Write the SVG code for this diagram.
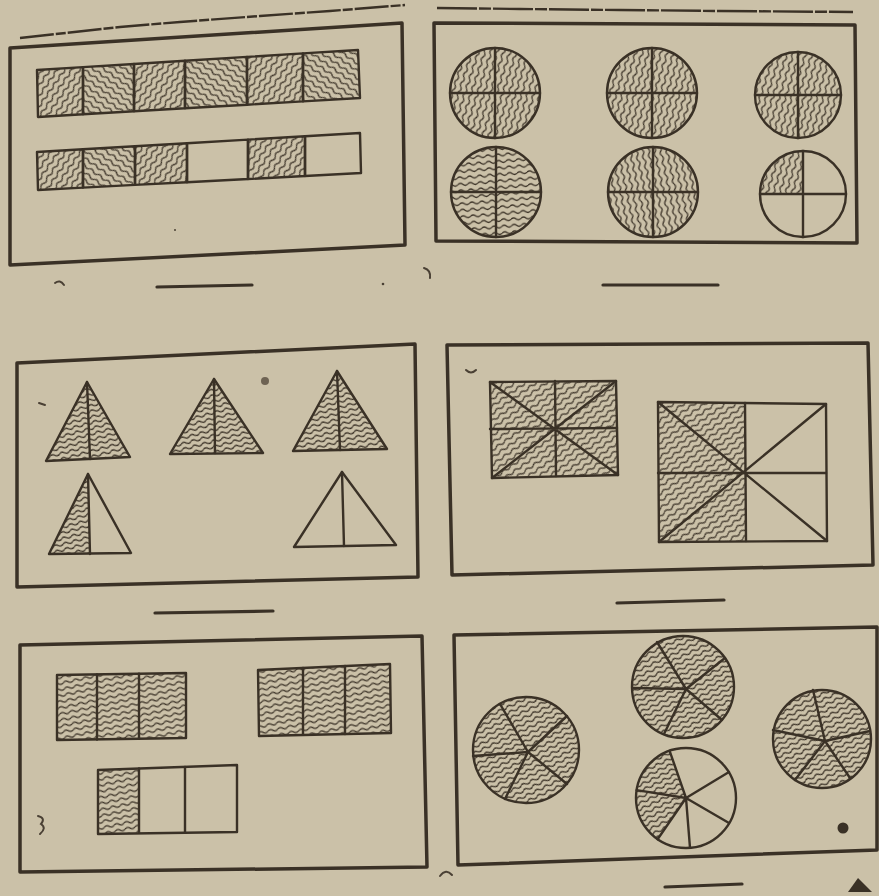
<svg xmlns="http://www.w3.org/2000/svg" width="879" height="896" viewBox="0 0 879 896">
<style>
.bx{fill:none;stroke:#3a3126;stroke-width:3.5;stroke-linejoin:round}
.ln{fill:none;stroke:#3a3126;stroke-width:2.4;stroke-linejoin:round;stroke-linecap:round}
.ans{stroke:#3a3126;stroke-width:3.2;stroke-linecap:round}
.mk{fill:none;stroke:#4a4034;stroke-width:2;stroke-linecap:round}
</style>
<defs>
<path id="wv" d="M0 3 Q2.5 0.7 5 3 T10 3" fill="none" stroke="#3a3126" stroke-width="1.25"/>
<pattern id="pA" width="10" height="6" patternUnits="userSpaceOnUse" patternTransform="rotate(-55)"><use href="#wv"/></pattern>
<pattern id="pB" width="10" height="6" patternUnits="userSpaceOnUse" patternTransform="rotate(35)"><use href="#wv"/></pattern>
<pattern id="pV" width="10" height="6" patternUnits="userSpaceOnUse" patternTransform="rotate(-72)"><use href="#wv"/></pattern>
<pattern id="pV2" width="10" height="6" patternUnits="userSpaceOnUse" patternTransform="rotate(78)"><use href="#wv"/></pattern>
<pattern id="pH" width="10" height="6.5" patternUnits="userSpaceOnUse" patternTransform="rotate(-5)"><use href="#wv"/></pattern>
<pattern id="pT" width="10" height="5.5" patternUnits="userSpaceOnUse" patternTransform="rotate(-15)"><use href="#wv"/></pattern>
<pattern id="pD" width="10" height="6" patternUnits="userSpaceOnUse" patternTransform="rotate(-35)"><use href="#wv"/></pattern>
<pattern id="pR" width="10" height="6" patternUnits="userSpaceOnUse" patternTransform="rotate(-12)"><use href="#wv"/></pattern>
<pattern id="pC" width="10" height="5.5" patternUnits="userSpaceOnUse" patternTransform="rotate(-25)"><use href="#wv"/></pattern>
</defs>
<rect width="879" height="896" fill="#cbc1a8"/>

<g id="panel-bars">
<path d="M20 38 L120 27 L180 22 L260 16 L330 11 L405 5" fill="none" stroke="#3a3126" stroke-width="2.4" stroke-dasharray="34 2 10 2"/>
<polygon class="bx" points="10,48 402,23 405,245 10,265"/>
<g class="ln">
<polygon points="37,70 83,67.1 83,114.3 38,117" fill="url(#pA)"/>
<polygon points="83,67.1 134,64 134,111.3 83,114.3" fill="url(#pB)"/>
<polygon points="134,64 185,60.8 185,108.3 134,111.3" fill="url(#pA)"/>
<polygon points="185,60.8 247,56.9 247,104.7 185,108.3" fill="url(#pB)"/>
<polygon points="247,56.9 303,53.4 303,101.4 247,104.7" fill="url(#pA)"/>
<polygon points="303,53.4 358,50 360,98 303,101.4" fill="url(#pB)"/>
<polygon points="37,152 83,149.3 83,187.6 38,190" fill="url(#pA)"/>
<polygon points="83,149.3 135,146.2 135,184.9 83,187.6" fill="url(#pB)"/>
<polygon points="135,146.2 187,143.2 187,182.2 135,184.9" fill="url(#pA)"/>
<polygon points="187,143.2 248,139.6 248,179 187,182.2" fill="none"/>
<polygon points="248,139.6 305,136.2 305,176 248,179" fill="url(#pA)"/>
<polygon points="305,136.2 360,133 361,173 305,176" fill="none"/>
</g>
<line class="ans" x1="157" y1="287" x2="252" y2="285"/>
</g>

<g id="panel-circles4">
<path d="M437 8 L520 9 L620 10 L720 11 L853 12" fill="none" stroke="#3a3126" stroke-width="2.4" stroke-dasharray="40 2 12 2"/>
<polygon class="bx" points="434,23 855,25 857,243 436,241"/>
<g class="ln">
<circle cx="495" cy="93" r="45" fill="url(#pV)"/>
<path d="M495 48 V138 M450 93 H540"/>
<circle cx="652" cy="93" r="45" fill="url(#pV)"/>
<path d="M652 48 V138 M607 93 H697"/>
<circle cx="798" cy="95" r="43" fill="url(#pV)"/>
<path d="M798 52 V138 M755 95 H841"/>
<circle cx="496" cy="192" r="45" fill="url(#pH)"/>
<path d="M496 147 V237 M451 192 H541"/>
<circle cx="653" cy="192" r="45" fill="url(#pV2)"/>
<path d="M653 147 V237 M608 192 H698"/>
<path d="M803 194 L803 151 A43 43 0 0 0 760 194 Z" fill="url(#pV)" stroke="none"/>
<circle cx="803" cy="194" r="43"/>
<path d="M803 151 V237 M760 194 H846"/>
</g>
<line class="ans" x1="603" y1="285" x2="718" y2="285"/>
</g>

<g id="panel-triangles">
<polygon class="bx" points="17,363 415,344 418,577 17,587"/>
<g class="ln">
<polygon points="87,382 130,457 46,461" fill="url(#pT)"/>
<path d="M87 382 L90 459"/>
<polygon points="214,379 263,453 170,454" fill="url(#pT)"/>
<path d="M214 379 L215 453"/>
<polygon points="337,371 387,449 293,451" fill="url(#pT)"/>
<path d="M337 371 L340 450"/>
<polygon points="88,474 90,554 49,554" fill="url(#pT)" stroke="none"/>
<polygon points="88,474 131,553 49,554"/>
<path d="M88 474 L90 554"/>
<polygon points="342,472 396,545 294,547"/>
<path d="M342 472 L344 546"/>
</g>
<line class="ans" x1="155" y1="613" x2="273" y2="611"/>
</g>

<g id="panel-rectangles8">
<polygon class="bx" points="447,345 868,343 873,565 452,575"/>
<g class="ln">
<polygon points="490,382 616,381 618,475 492,478" fill="url(#pD)"/>
<path d="M555 381 L556 476 M490 429 L617 428 M490 382 L618 475 M616 381 L492 478"/>
<polygon points="658,402 745,403 746,541 659,542" fill="url(#pD)" stroke="none"/>
<polygon points="658,402 826,404 827,541 659,542"/>
<path d="M745 403 L746 541 M658 473 L826 473 M658 402 L827 541 M826 404 L659 542"/>
</g>
<line class="ans" x1="617" y1="603" x2="724" y2="600"/>
</g>

<g id="panel-thirds">
<polygon class="bx" points="20,645 422,636 427,867 20,872"/>
<g class="ln">
<polygon points="57,675 186,673 186,738 57,740" fill="url(#pR)"/>
<path d="M97 674.5 V739.5 M139 673.8 V738.8"/>
<polygon points="258,670 390,664 391,733 259,736" fill="url(#pR)"/>
<path d="M303 668 L303 734.5 M345 666 L345 734"/>
<polygon points="98,770 139,768.5 139,832.5 98,834" fill="url(#pR)" stroke="none"/>
<polygon points="98,770 237,765 237,832 98,834"/>
<path d="M139 768.5 V832.5 M185 767 V832.8"/>
</g>
</g>

<g id="panel-fifths">
<polygon class="bx" points="454,635 877,627 877,850 458,865"/>
<g class="ln">
<circle cx="526" cy="750" r="53" fill="url(#pC)"/>
<path d="M528 752 L500 704 M528 752 L567 716 M528 752 L567 784 M528 752 L505 799 M528 752 L473 756"/>
<circle cx="683" cy="687" r="51" fill="url(#pC)"/>
<path d="M686 689 L657 642 M686 689 L725 658 M686 689 L722 720 M686 689 L664 734 M686 689 L633 688"/>
<circle cx="822" cy="739" r="49" fill="url(#pC)"/>
<path d="M825 741 L813 690 M825 741 L870 731 M825 741 L850 778 M825 741 L795 780 M825 741 L773 730"/>
<path d="M686 798 L669.6 750.8 A50 50 0 0 0 657.6 839.2 Z" fill="url(#pC)" stroke="none"/>
<circle cx="686" cy="798" r="50"/>
<path d="M686 798 L669.6 750.8 M686 798 L729 772 M686 798 L729 823 M686 798 L690 847.8 M686 798 L657.6 839.2 M686 798 L636.6 790.1"/>
</g>
<line class="ans" x1="665" y1="887" x2="742" y2="884"/>
</g>

<g id="marks">
<path class="mk" d="M55 283 Q60 279 64 285"/>
<circle cx="383" cy="284" r="1.3" fill="#4a4034"/>
<path class="mk" d="M424 268 Q431 270 430 278"/>
<circle cx="175" cy="230" r="1" fill="#4a4034"/>
<path class="mk" d="M39 403 L45 405"/>
<circle cx="265" cy="381" r="4" fill="#6e6353"/>
<path class="mk" d="M466 370 Q471 375 476 370"/>
<path class="mk" d="M38 816 Q46 818 41 824 Q47 828 40 834"/>
<circle cx="843" cy="828" r="5.5" fill="#3a3126"/>
<path d="M848 892 L858 878 L872 892 Z" fill="#3a3126"/>
<path class="mk" d="M440 876 Q446 868 452 875"/>
</g>
</svg>
